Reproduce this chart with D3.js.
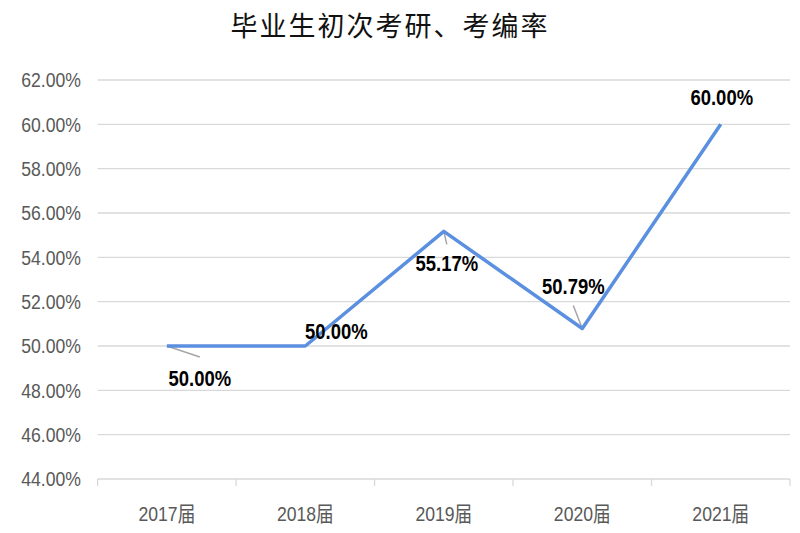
<!DOCTYPE html>
<html><head><meta charset="utf-8">
<script src="https://cdn.jsdelivr.net/npm/d3@7"></script>
<style>body{margin:0;background:#fff}svg{display:block}</style>
</head><body><svg id="c" width="800" height="533"></svg>
<script>
const categories = ["2017届","2018届","2019届","2020届","2021届"];
const values = [0.50, 0.50, 0.5517, 0.5079, 0.60];
const yTicks = [0.44,0.46,0.48,0.50,0.52,0.54,0.56,0.58,0.60,0.62];
const title = "毕业生初次考研、考编率";
// label placement relative to point (layout only)
const labelOffsets = [[33,32],[31,-15],[3,32],[-9,-42],[1,-27]];
const leaderEnds = [[33,11],null,[3,13],[-9,-23],null];

const svg = d3.select("#c");
const x = d3.scaleBand().domain(categories).range([97.6,790]);
const y = d3.scaleLinear().domain([0.44,0.62]).range([479,80]);
const fmt = d3.format(".2%");
const NS = 0.84; // narrow-font emulation

svg.append("text").attr("x",390).attr("y",36).attr("text-anchor","middle")
  .attr("font-family","'Noto Sans CJK SC'").attr("font-size",27).attr("fill","#111")
  .attr("letter-spacing",2).text(title);

// gridlines
svg.append("g").selectAll("line").data(yTicks.filter(d=>d>0.44)).join("line")
  .attr("x1",97.6).attr("x2",790).attr("y1",d=>y(d)).attr("y2",d=>y(d))
  .attr("stroke","#d9d9d9").attr("stroke-width",1.3);

// y labels
svg.append("g").selectAll("text").data(yTicks).join("text")
  .attr("transform",d=>`translate(81,${y(d)}) scale(${NS},1)`).attr("dy","0.35em").attr("text-anchor","end")
  .attr("font-family","'Liberation Sans',sans-serif")
  .attr("font-size",21).attr("fill","#595959").text(d=>fmt(d));

// x axis
const gx = svg.append("g").attr("transform",`translate(0,${y(0.44)})`);
gx.append("line").attr("x1",x.range()[0]).attr("x2",x.range()[1])
  .attr("stroke","#d9d9d9").attr("stroke-width",1.3);
const bounds = categories.map(c=>x(c)).concat([x.range()[1]]);
gx.selectAll("line.b").data(bounds).join("line").attr("class","b")
  .attr("x1",d=>d).attr("x2",d=>d).attr("y1",0).attr("y2",7)
  .attr("stroke","#d9d9d9").attr("stroke-width",1.3);
gx.selectAll("text.c").data(categories).join("text").attr("class","c")
  .attr("transform",d=>`translate(${x(d)+x.bandwidth()/2},42) scale(${NS},1)`).attr("text-anchor","middle")
  .attr("font-family","'Liberation Sans','Noto Sans CJK SC',sans-serif")
  .attr("font-size",21).attr("fill","#595959").text(d=>d);

const px = i => x(categories[i])+x.bandwidth()/2;
// leader lines
svg.append("g").selectAll("line").data(values.map((v,i)=>({v,i})).filter(d=>leaderEnds[d.i])).join("line")
  .attr("x1",d=>px(d.i)).attr("y1",d=>y(d.v))
  .attr("x2",d=>px(d.i)+leaderEnds[d.i][0]).attr("y2",d=>y(d.v)+leaderEnds[d.i][1])
  .attr("stroke","#a6a6a6").attr("stroke-width",1.5);

// line
svg.append("path").datum(values)
  .attr("d",d3.line().x((d,i)=>px(i)).y(d=>y(d)))
  .attr("fill","none").attr("stroke","#5b8fe0").attr("stroke-width",3.5)
  .attr("stroke-linejoin","round");

// labels
svg.append("g").selectAll("text").data(values).join("text")
  .attr("transform",(d,i)=>`translate(${px(i)+labelOffsets[i][0]},${y(d)+labelOffsets[i][1]}) scale(${NS},1)`)
  .attr("dy","0.35em").attr("text-anchor","middle")
  .attr("font-family","'Liberation Sans',sans-serif")
  .attr("font-weight","bold").attr("font-size",22).attr("fill","#000")
  .text(d=>fmt(d));
</script></body></html>
